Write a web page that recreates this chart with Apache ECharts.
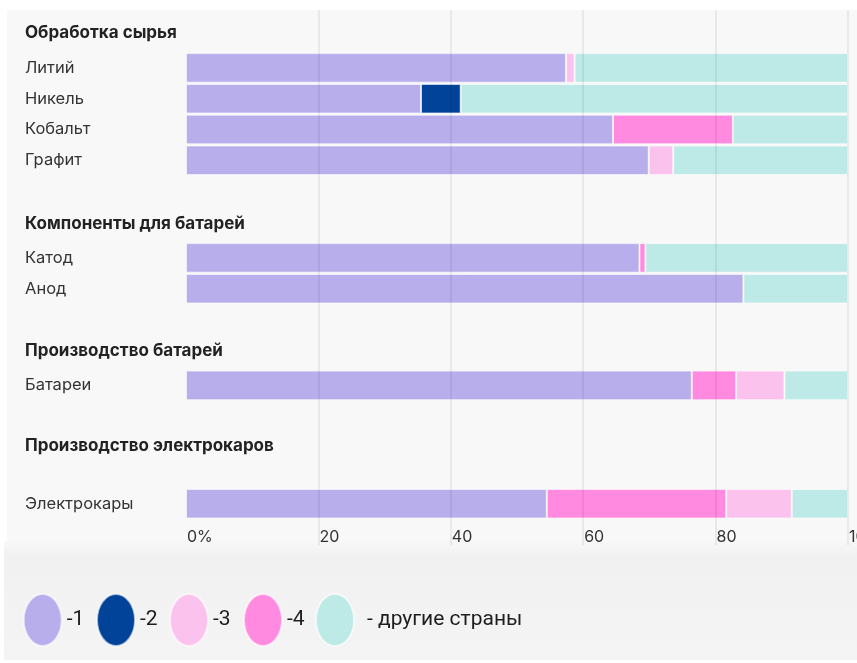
<!DOCTYPE html>
<html>
<head>
    <meta charset="utf-8">
    <title>ECharts</title>
    <script src="https://cdn.jsdelivr.net/npm/echarts@6/dist/echarts.min.js"></script>
    <style>
        html, body { margin: 0; padding: 0; background: #ffffff; }
        #main { width: 857px; height: 663px; }
    </style>
</head>
<body>
<div id="main"></div>
<script type="text/javascript">
    // группы и строки
    var groupTitles = ['Обработка сырья', 'Компоненты для батарей', 'Производство батарей', 'Производство электрокаров'];
    var cats1 = ['Литий', 'Никель', 'Кобальт', 'Графит'];
    var cats2 = ['Катод', 'Анод'];
    var cats3 = ['Батареи'];
    var cats4 = ['Электрокары'];

    // доли, % (null = нет сегмента)
    var s1 = [[57.4, 35.5, 64.5, 69.9], [68.5, 84.2], [76.4], [54.5]];
    var s2 = [[null, 6.0, null, null], [null, null], [null], [null]];
    var s3 = [[1.3, null, null, 3.7], [null, null], [7.3], [9.9]];
    var s4 = [[null, null, 18.1, null], [0.9, null], [6.7], [27.1]];
    var other = [[41.3, 58.5, 17.4, 26.4], [30.6, 15.8], [9.6], [8.5]];

    var tickLabels = ['0%', '20', '40', '60', '80', '100'];
    var legendNames = ['-1', '-2', '-3', '-4', '- другие страны'];

    var colors = {'-1': '#b8aeec', '-2': '#014399', '-3': '#fbc2ed', '-4': '#ff8ae0', '- другие страны': '#bde9e6'};
    var allCats = [cats1, cats2, cats3, cats4];
    var gridTops = [52.5, 242.5, 370, 488.3];
    var font = 'Inter, "Noto Sans", sans-serif';

    var grids = [{left: 186, right: 9, top: 10, height: 535, outerBoundsMode: 'none'}];
    var xAxes = [{
        gridIndex: 0, type: 'value', min: 0, max: 100, interval: 20, z: 10,
        axisLine: {show: false}, axisTick: {show: false},
        splitLine: {show: true, showMinLine: false, lineStyle: {color: 'rgba(0,0,0,0.08)', width: 1.5}},
        axisLabel: {
            inside: true, margin: 0, align: 'left', padding: [0, 0, 0, 1],
            showMaxLabel: true, hideOverlap: false, fontFamily: font, fontSize: 16, color: '#333',
            formatter: function (v) { return tickLabels[Math.round(v / 20)]; }
        }
    }];
    var yAxes = [{gridIndex: 0, type: 'value', show: false}];
    var titles = [];
    var series = [];
    var headerY = [24, 215.5, 342, 437];

    allCats.forEach(function (cats, g) {
        var gi = g + 1;
        grids.push({left: 186, right: 9, top: gridTops[g], height: cats.length * 30.8, outerBoundsMode: 'none'});
        xAxes.push({gridIndex: gi, type: 'value', min: 0, max: 100, show: false});
        yAxes.push({
            gridIndex: gi, type: 'category', data: cats, inverse: true,
            axisLine: {show: false}, axisTick: {show: false}, splitLine: {show: false},
            axisLabel: {align: 'left', margin: 161, fontFamily: font, fontSize: 16.5, color: '#333'}
        });
        titles.push({
            text: groupTitles[g], left: 25, top: headerY[g], padding: 0,
            textStyle: {fontFamily: font, fontSize: 17, fontWeight: 'bold', color: '#222'}
        });
        var parts = [['-1', s1], ['-2', s2], ['-4', s4], ['-3', s3], ['- другие страны', other]];
        parts.forEach(function (p) {
            series.push({
                name: p[0], type: 'bar', stack: 'g' + g,
                xAxisIndex: gi, yAxisIndex: gi,
                barCategoryGap: '4%',
                itemStyle: {color: colors[p[0]], borderColor: 'rgba(255,255,255,0.6)', borderWidth: 1},
                emphasis: {disabled: true},
                data: p[1][g]
            });
        });
    });

    var legendLeft = [22.7, 96, 169, 243, 315];
    var legends = legendNames.map(function (n, i) {
        return {
            data: [n], left: legendLeft[i], top: 593, padding: 0,
            itemWidth: 38, itemHeight: 52, selectedMode: false,
            icon: 'path://M0,26A19,26,0,1,0,38,26A19,26,0,1,0,0,26Z',
            textStyle: {
                fontFamily: 'Roboto, "Liberation Sans", sans-serif',
                fontSize: 21, color: '#1e1e1e', padding: i === 4 ? [0, 0, 0, 8] : 0
            }
        };
    });

    var myChart = echarts.init(document.getElementById('main'));
    var option = {
        animation: false,
        backgroundColor: '#ffffff',
        graphic: [
            {type: 'rect', z: -10, silent: true, shape: {x: 7, y: 10, width: 850, height: 532}, style: {fill: '#f8f8f8'}},
            {type: 'rect', z: -10, silent: true, shape: {x: 4, y: 542, width: 853, height: 118},
                style: {fill: new echarts.graphic.LinearGradient(0, 0, 0, 1, [
                    {offset: 0, color: '#f7f7f7'}, {offset: 0.12, color: '#f1f1f1'}, {offset: 1, color: '#f4f4f4'}])}}
        ],
        title: titles,
        legend: legends,
        grid: grids,
        xAxis: xAxes,
        yAxis: yAxes,
        series: series
    };
    myChart.setOption(option);
</script>
</body>
</html>
